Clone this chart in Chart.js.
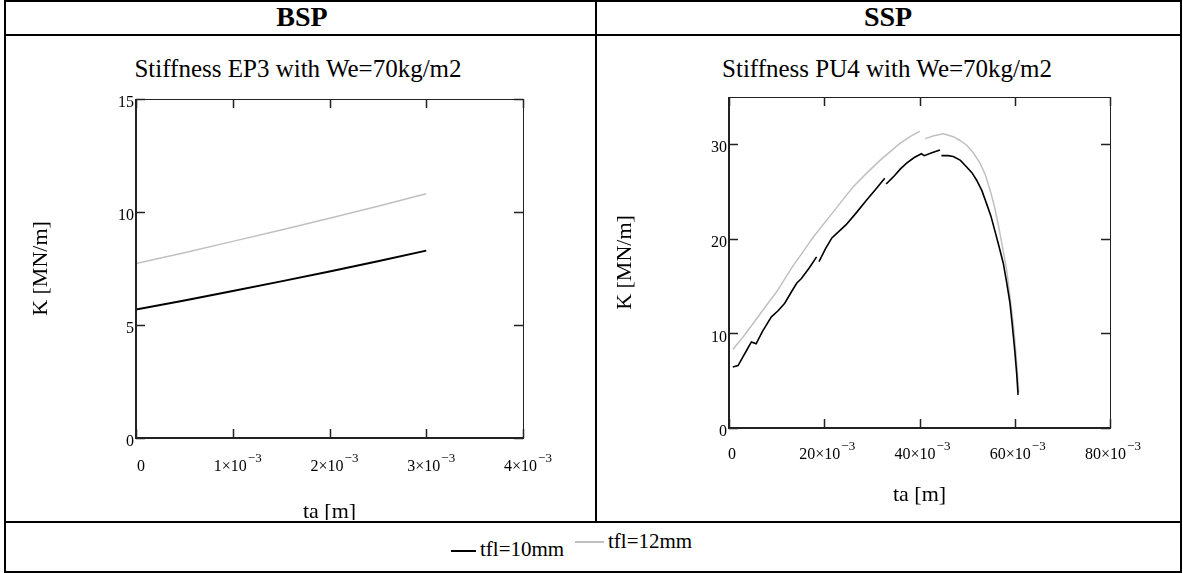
<!DOCTYPE html>
<html>
<head>
<meta charset="utf-8">
<script src="https://cdn.jsdelivr.net/npm/chart.js@4.4.1/dist/chart.umd.min.js"></script>
<style>
    body { margin: 0; background: #fff; font-family: 'Liberation Serif', 'Times New Roman', serif; }
    #page { position: relative; width: 1183px; height: 573px; overflow: hidden; }
    .rule { position: absolute; background: #000; }
    .head { position: absolute; top: 0px; font-weight: bold; font-size: 28px; line-height: 34px; width: 300px; text-align: center; }
    .ptitle { position: absolute; top: 55px; font-size: 25px; width: 500px; text-align: center; }
    canvas { position: absolute; }
    .lg-line { position: absolute; height: 1.5px; }
    .lg-text { position: absolute; font-size: 21px; line-height: 21px; }
</style>
</head>
<body>
<div id="page">
    <div class="rule" style="left:4px;top:0;width:1178px;height:2px"></div>
    <div class="rule" style="left:4px;top:34px;width:1178px;height:2px"></div>
    <div class="rule" style="left:4px;top:521px;width:1178px;height:2px"></div>
    <div class="rule" style="left:4px;top:571px;width:1178px;height:2px"></div>
    <div class="rule" style="left:4px;top:0;width:2px;height:573px"></div>
    <div class="rule" style="left:1180px;top:0;width:2px;height:573px"></div>
    <div class="rule" style="left:595px;top:0;width:2px;height:522px"></div>

    <div class="head" style="left:152px">BSP</div>
    <div class="head" style="left:738px">SSP</div>
    <div class="ptitle" style="left:48px">Stiffness EP3 with We=70kg/m2</div>
    <div class="ptitle" style="left:637px">Stiffness PU4 with We=70kg/m2</div>

    <canvas id="bspChart" style="left:6px;top:36px" width="588" height="484"></canvas>
    <canvas id="sspChart" style="left:597px;top:36px" width="582" height="484"></canvas>

    <div class="lg-line" style="left:451px;top:550px;width:25px;background:#000"></div>
    <div class="lg-text" style="left:480px;top:539px">tfl=10mm</div>
    <div class="lg-line" style="left:575px;top:541px;width:29px;background:#c0c0c0"></div>
    <div class="lg-text" style="left:608px;top:531px">tfl=12mm</div>
</div>
<script>
// BSP (EP3): ta in m, K in MN/m
const bspTa = [0, 0.5e-3, 1e-3, 1.5e-3, 2e-3, 2.5e-3, 3e-3];
const bspK10 = [5.68, 6.08, 6.5, 6.93, 7.37, 7.82, 8.29];
const bspK12 = [7.72, 8.2, 8.7, 9.2, 9.72, 10.25, 10.81];

// SSP (PU4): ta in units of 1e-3 m, K in MN/m (null = break in the curve)
const sspTa10 = [0.8, 1.9, 2.9, 3.8, 4.7, 5.7, 7.0, 8.9, 10.3, 11.7, 13.0, 14.2, 15.2, 16.8, 18.4, 18.6, 18.9, 20.3, 21.6, 23.3, 24.6, 26.8, 28.9, 30.9, 32.7, 32.8, 33.0, 34.5, 36.0, 37.3, 38.9, 40.4, 41.0, 42.6, 44.3, 44.4, 44.6, 46.0, 47.1, 48.6, 49.9, 51.0, 52.0, 53.1, 54.1, 55.0, 55.8, 56.7, 57.6, 58.3, 59.0, 59.5, 60.0, 60.4, 60.7];
const sspK10 = [6.45, 6.6, 7.5, 8.3, 9.1, 8.9, 10.2, 11.75, 12.4, 13.2, 14.3, 15.3, 15.8, 16.9, 18.1, null, 17.6, 19.0, 20.1, 20.9, 21.5, 22.8, 24.1, 25.3, 26.4, null, 25.8, 26.55, 27.4, 28.0, 28.6, 29.0, 28.8, 29.1, 29.4, null, 28.8, 28.8, 28.7, 28.3, 27.6, 27.0, 26.2, 25.1, 23.7, 22.4, 20.9, 19.2, 17.4, 15.4, 13.2, 10.8, 8.2, 5.8, 3.5];
const sspTa12 = [0.8, 2.9, 5.0, 7.1, 10.0, 13.5, 15.5, 17.7, 21.9, 24.0, 26.1, 28.8, 31.7, 33.8, 35.9, 38.0, 40.1, 40.6, 41.2, 43.0, 45.0, 47.1, 48.5, 49.9, 51.3, 52.7, 53.8, 54.8, 55.7, 56.5, 57.4, 58.3, 59.0, 59.7, 60.3, 60.85];
const sspK12 = [8.3, 9.6, 11.0, 12.45, 14.4, 17.2, 18.6, 20.2, 22.85, 24.2, 25.5, 26.9, 28.3, 29.2, 30.1, 30.8, 31.4, null, 30.6, 30.9, 31.1, 30.8, 30.4, 29.9, 29.1, 28.0, 26.8, 25.2, 23.5, 21.6, 19.2, 16.7, 13.9, 11.0, 7.6, 3.8];

// axis ticks and labels
const bspXTicks = [0, 1e-3, 2e-3, 3e-3, 4e-3];
const bspXLabels = ['0', '1×10|−3', '2×10|−3', '3×10|−3', '4×10|−3'];
const bspYTicks = [0, 5, 10, 15];
const sspXTicks = [0, 20, 40, 60, 80];
const sspXLabels = ['0', '20×10|−3', '40×10|−3', '60×10|−3', '80×10|−3'];
const sspYTicks = [0, 10, 20, 30];

const COLORS = { k10: '#000000', k12: '#c0c0c0', axis: '#222222', text: '#000000' };
const SERIF = "'Liberation Serif', 'Times New Roman', serif";

// Mathcad-like frame: inward ticks on all four sides, labels with superscript exponent
const mathcadFrame = {
    id: 'mathcadFrame',
    afterDraw(chart, args, opts) {
        const { ctx, chartArea: a, scales: { x, y } } = chart;
        ctx.save();
        ctx.strokeStyle = COLORS.axis;
        ctx.fillStyle = COLORS.text;

        // frame
        ctx.lineWidth = 1;
        ctx.strokeRect(a.left + 0.5, a.top + 0.5, a.right - a.left, a.bottom - a.top);
        ctx.lineWidth = 2;
        ctx.beginPath();
        ctx.moveTo(a.left, a.top);
        ctx.lineTo(a.left, a.bottom);
        ctx.lineTo(a.right + 1, a.bottom);
        ctx.stroke();

        // tick marks
        ctx.lineWidth = 1.5;
        ctx.beginPath();
        opts.xTicks.forEach(v => {
            const px = Math.round(x.getPixelForValue(v)) + 0.5;
            ctx.moveTo(px, a.bottom); ctx.lineTo(px, a.bottom - 9);
            ctx.moveTo(px, a.top); ctx.lineTo(px, a.top + 9);
        });
        opts.yTicks.forEach(v => {
            const py = Math.round(y.getPixelForValue(v)) + 0.5;
            ctx.moveTo(a.left, py); ctx.lineTo(a.left + 9, py);
            ctx.moveTo(a.right, py); ctx.lineTo(a.right - 9, py);
        });
        ctx.stroke();

        // y labels
        ctx.font = '16px ' + SERIF;
        ctx.textAlign = 'right';
        ctx.textBaseline = 'middle';
        opts.yTicks.forEach(v => {
            ctx.fillText(String(v), a.left - 2, y.getPixelForValue(v) + 4);
        });

        // x labels, mantissa|exponent
        ctx.textAlign = 'left';
        ctx.textBaseline = 'alphabetic';
        opts.xTicks.forEach((v, i) => {
            const [base, sup] = opts.xLabels[i].split('|');
            ctx.font = '16px ' + SERIF;
            const wb = ctx.measureText(base).width;
            ctx.font = '13px ' + SERIF;
            const ws = sup ? ctx.measureText(sup).width + 1 : 0;
            const left = x.getPixelForValue(v) + opts.xLabelShift - (wb + ws) / 2;
            const baseY = a.bottom + opts.xLabelDy;
            ctx.font = '16px ' + SERIF;
            ctx.fillText(base, left, baseY);
            if (sup) {
                ctx.font = '13px ' + SERIF;
                ctx.fillText(sup, left + wb + 1, baseY - 9);
            }
        });

        // axis titles
        ctx.font = '22px ' + SERIF;
        ctx.textAlign = 'center';
        ctx.textBaseline = 'middle';
        ctx.fillText(opts.xTitle, (a.left + a.right) / 2, a.bottom + opts.xTitleDy);
        ctx.translate(a.left - opts.yTitleDx, (a.top + a.bottom) / 2);
        ctx.rotate(-Math.PI / 2);
        ctx.fillText(opts.yTitle, 0, 0);
        ctx.restore();
    }
};

function lineSet(label, xs, ys, color, width) {
    return {
        label,
        data: xs.map((v, i) => ({ x: v, y: ys[i] })),
        borderColor: color,
        backgroundColor: 'transparent',
        borderWidth: width,
        pointRadius: 0,
        tension: 0,
        spanGaps: false
    };
}

function createStiffnessChart(canvasId, datasets, xMax, yMax, frame, padding) {
    const ctx = document.getElementById(canvasId);
    return new Chart(ctx, {
        type: 'scatter',
        data: { datasets },
        options: {
            responsive: false,
            animation: false,
            showLine: true,
            layout: { padding },
            plugins: {
                legend: { display: false },
                tooltip: { enabled: false },
                mathcadFrame: frame
            },
            scales: {
                x: { type: 'linear', min: 0, max: xMax, display: false },
                y: { type: 'linear', min: 0, max: yMax, display: false }
            }
        },
        plugins: [mathcadFrame]
    });
}

createStiffnessChart('bspChart', [
    lineSet('tfl=10mm', bspTa, bspK10, COLORS.k10, 2),
    lineSet('tfl=12mm', bspTa, bspK12, COLORS.k12, 1.5)
], 4e-3, 15, {
    xTicks: bspXTicks, xLabels: bspXLabels, yTicks: bspYTicks,
    xLabelShift: 5, xLabelDy: 33, xTitle: 'ta [m]', xTitleDy: 74, yTitle: 'K [MN/m]', yTitleDx: 95
}, { left: 130, top: 63, right: 71, bottom: 82 });

createStiffnessChart('sspChart', [
    lineSet('tfl=10mm', sspTa10, sspK10, COLORS.k10, 1.6),
    lineSet('tfl=12mm', sspTa12, sspK12, COLORS.k12, 1.5)
], 80, 35, {
    xTicks: sspXTicks, xLabels: sspXLabels, yTicks: sspYTicks,
    xLabelShift: 3, xLabelDy: 31, xTitle: 'ta [m]', xTitleDy: 67, yTitle: 'K [MN/m]', yTitleDx: 104
}, { left: 132, top: 61, right: 69, bottom: 92 });
</script>
</body>
</html>
